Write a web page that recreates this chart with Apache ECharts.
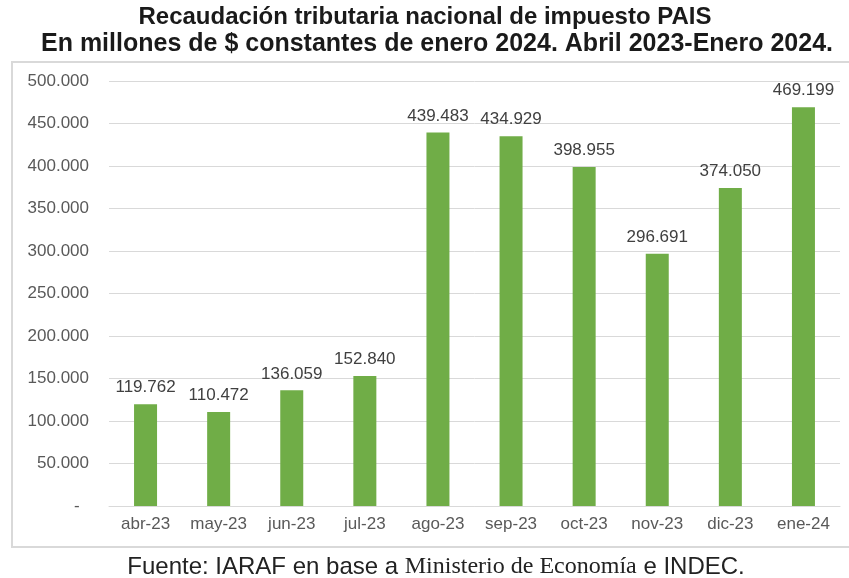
<!DOCTYPE html>
<html><head><meta charset="utf-8">
<script src="https://cdn.jsdelivr.net/npm/echarts@6/dist/echarts.min.js"></script>
<style>html,body{margin:0;padding:0;background:#fff}#c{width:849px;height:578px}</style>
</head><body><div id="c"></div>
<script>
const categories = ['abr-23','may-23','jun-23','jul-23','ago-23','sep-23','oct-23','nov-23','dic-23','ene-24'];
const values = [119762, 110472, 136059, 152840, 439483, 434929, 398955, 296691, 374050, 469199];
const titleLines = ['Recaudación tributaria nacional de impuesto PAIS','En millones de $ constantes de enero 2024. Abril 2023-Enero 2024.'];
const sourceText = ['Fuente: IARAF en base a ','Ministerio de Economía',' e INDEC.'];

function fmt(v){ if(v===0) return '-  '; return String(Math.round(v)).replace(/\B(?=(\d{3})+(?!\d))/g,'.'); }

const tFont = '"Liberation Sans",Arial,sans-serif';
const chart = echarts.init(document.getElementById('c'), null, {renderer:'canvas'});
chart.setOption({
  animation:false,
  backgroundColor:'#fff',
  graphic:[
    {type:'text',x:425,y:17,style:{text:titleLines[0],font:'bold 24px '+tFont,fill:'#1a1a1a',align:'center',verticalAlign:'middle'}},
    {type:'text',x:437,y:44,style:{text:titleLines[1],font:'bold 25px '+tFont,fill:'#1a1a1a',align:'center',verticalAlign:'middle'}},
    {type:'rect',shape:{x:12,y:62,width:860,height:485},style:{fill:'none',stroke:'#d9d9d9',lineWidth:2},silent:true,z:-1},
    {type:'text',x:436,y:567,style:{
      text:'{a|'+sourceText[0]+'}{b|'+sourceText[1]+'}{a|'+sourceText[2]+'}',
      align:'center',verticalAlign:'middle',
      rich:{
        a:{fontFamily:tFont,fontSize:24,fill:'#222'},
        b:{fontFamily:'"Liberation Serif",serif',fontSize:24,fill:'#222'}
      }
    }}
  ],
  grid:{left:109,right:9,top:81,bottom:72,containLabel:false},
  xAxis:{
    type:'category',data:categories,
    axisLine:{show:true,lineStyle:{color:'#d9d9d9',width:1}},
    axisTick:{show:false},
    axisLabel:{color:'#595959',fontSize:17,fontFamily:tFont,margin:10,interval:0}
  },
  yAxis:{
    type:'value',min:0,max:500000,interval:50000,
    axisLine:{show:false},axisTick:{show:false},
    splitLine:{lineStyle:{color:'#d9d9d9',width:1}},
    axisLabel:{color:'#595959',fontSize:17,fontFamily:tFont,margin:20,formatter:fmt}
  },
  series:[{
    type:'bar',data:values,barWidth:23,
    itemStyle:{color:'#70AD47'},
    label:{show:true,position:'top',distance:8,color:'#404040',fontSize:17,fontFamily:tFont,formatter:p=>fmt(p.value)}
  }]
});
</script></body></html>
